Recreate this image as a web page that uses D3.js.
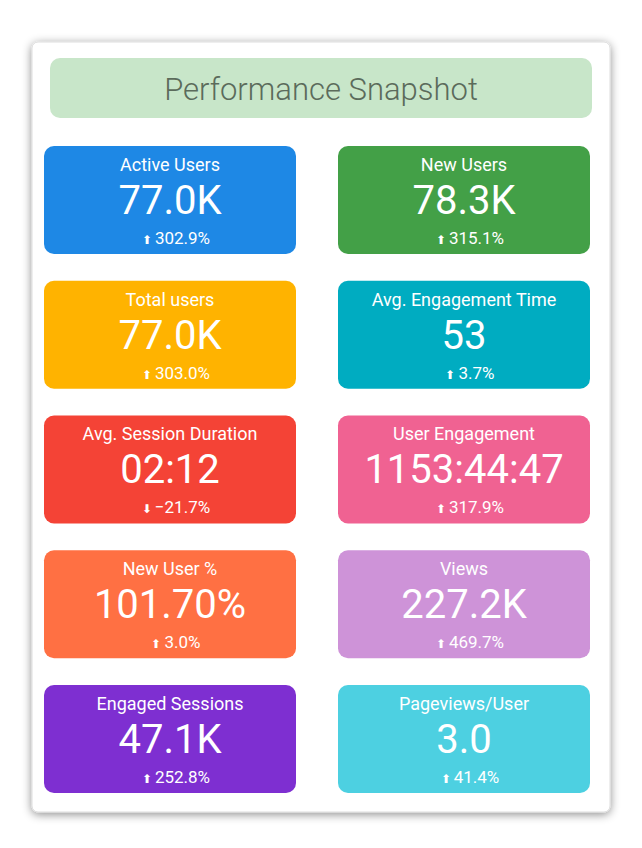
<!DOCTYPE html>
<html><head><meta charset="utf-8">
<script src="https://cdn.jsdelivr.net/npm/d3@7"></script>
<style>body{margin:0;background:#fff;font-family:Roboto,"Noto Sans",sans-serif;}</style>
</head><body><svg id="c" width="642" height="848"></svg>
<script>
const title = "Performance Snapshot";
const labels = ["Active Users","New Users","Total users","Avg. Engagement Time","Avg. Session Duration","User Engagement","New User %","Views","Engaged Sessions","Pageviews/User"];
const values = ["77.0K","78.3K","77.0K","53","02:12","1153:44:47","101.70%","227.2K","47.1K","3.0"];
const deltas = [302.9,315.1,303.0,3.7,-21.7,317.9,3.0,469.7,252.8,41.4];
const colors = ["#1e88e5","#43a047","#ffb300","#00acc1","#f44336","#f06292","#ff7043","#ce93d8","#7e2fd1","#4dd0e1"];

const svg = d3.select("#c");
const defs = svg.append("defs");
const f = defs.append("filter").attr("id","sh").attr("x","-10%").attr("y","-10%").attr("width","120%").attr("height","120%");
f.append("feDropShadow").attr("dx",0).attr("dy",2).attr("stdDeviation",5).attr("flood-color","#000").attr("flood-opacity",0.45);
svg.append("rect").attr("x",32).attr("y",42).attr("width",578).attr("height",770).attr("rx",6).attr("fill","#fff").attr("stroke","#ddd").attr("filter","url(#sh)");
svg.append("rect").attr("x",50).attr("y",58).attr("width",542).attr("height",60).attr("rx",10).attr("fill","#c8e6c9");
svg.append("text").attr("x",321).attr("y",100).attr("text-anchor","middle").attr("font-size",31).attr("font-weight",300).attr("fill","#5b6b5b").text(title);

const idx = d3.range(labels.length);
const col = d3.scaleOrdinal().domain([0,1]).range([44,338]);
const row = d3.scaleBand().domain(d3.range(5)).range([146,793]).paddingInner(0.1985).paddingOuter(0);
const W = 252, H = row.bandwidth();
const g = svg.selectAll("g.card").data(idx).join("g").attr("class","card")
  .attr("transform", i => `translate(${col(i%2)},${row(Math.floor(i/2))})`);
g.append("rect").attr("width",W).attr("height",H).attr("rx",10).attr("fill",i=>colors[i]);
g.append("text").attr("x",W/2).attr("y",25).attr("text-anchor","middle").attr("font-size",18).attr("fill","#fff").text(i=>labels[i]);
g.append("text").attr("x",W/2).attr("y",68).attr("text-anchor","middle").attr("font-size",40).attr("fill","#fff").text(i=>values[i]);
const d = g.append("text").attr("x",W/2+6).attr("y",98).attr("text-anchor","middle").attr("font-size",17).attr("fill","#fff");
d.append("tspan").attr("font-size",12).text(i=>deltas[i]>=0?"⬆ ":"⬇ ");
d.append("tspan").text(i=>d3.format(".1f")(deltas[i])+"%");
</script></body></html>
